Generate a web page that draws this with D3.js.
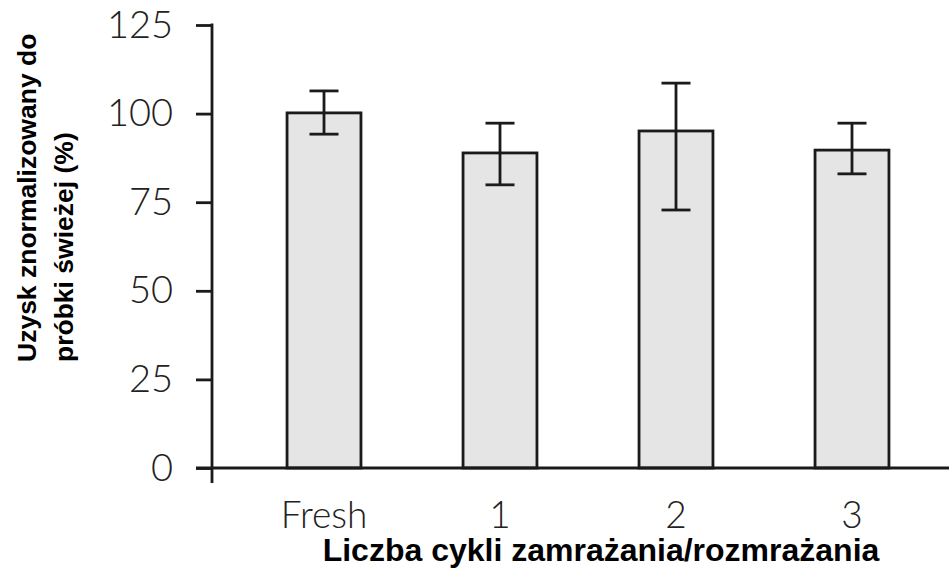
<!DOCTYPE html>
<html>
<head>
<meta charset="utf-8">
<script src="https://cdn.jsdelivr.net/npm/d3@7"></script>
<style>
  html, body { margin: 0; padding: 0; background: #ffffff; }
  svg { display: block; }
</style>
</head>
<body>
<svg id="chart" width="949" height="568"></svg>
<script>
const categories = ["Fresh", "1", "2", "3"];
const values = [100.2, 88.9, 95.1, 89.7];
const errLow = [94.2, 79.9, 72.8, 83.0];
const errHigh = [106.4, 97.3, 108.6, 97.3];
const yTicks = [0, 25, 50, 75, 100, 125];
const xTitle = "Liczba cykli zamrażania/rozmrażania";
const yTitleLines = ["Uzysk znormalizowany do", "próbki świeżej (%)"];

const svg = d3.select("#chart");
const ink = "#1a1a1a";

const x = d3.scaleBand().domain(categories).range([212, 964])
  .paddingInner(0.58).paddingOuter(0.4264);
const y = d3.scaleLinear().domain([0, 125]).range([468, 25]);

// bars
svg.append("g").selectAll("rect").data(categories).join("rect")
  .attr("x", d => x(d))
  .attr("y", (d, i) => y(values[i]))
  .attr("width", x.bandwidth())
  .attr("height", (d, i) => y(0) - y(values[i]))
  .attr("fill", "#e5e5e5")
  .attr("stroke", ink)
  .attr("stroke-width", 2.8);

// error bars
const eb = svg.append("g").attr("stroke", ink).attr("stroke-width", 2.8);
categories.forEach((c, i) => {
  const cx = x(c) + x.bandwidth() / 2;
  eb.append("line").attr("x1", cx).attr("x2", cx).attr("y1", y(errLow[i])).attr("y2", y(errHigh[i]));
  eb.append("line").attr("x1", cx - 14.5).attr("x2", cx + 14.5).attr("y1", y(errLow[i])).attr("y2", y(errLow[i]));
  eb.append("line").attr("x1", cx - 14.5).attr("x2", cx + 14.5).attr("y1", y(errHigh[i])).attr("y2", y(errHigh[i]));
});

// y axis
const yAxis = d3.axisLeft(y).tickValues(yTicks).tickSize(16).tickPadding(23).tickSizeOuter(0);
const gy = svg.append("g").attr("transform", "translate(212,0)").call(yAxis);
gy.select(".domain").remove();
gy.selectAll(".tick line").attr("stroke", ink).attr("stroke-width", 2.8);
gy.selectAll(".tick text")
  .attr("fill", "#222")
  .style("font-family", "Lato, 'Open Sans', sans-serif")
  .style("font-weight", 300)
  .style("font-size", "38px");
svg.append("line").attr("x1", 212).attr("x2", 212).attr("y1", y(125) - 1.4).attr("y2", 483)
  .attr("stroke", ink).attr("stroke-width", 2.8);

// x axis
const xAxis = d3.axisBottom(x).tickSize(0).tickPadding(34).tickSizeOuter(0);
const gx = svg.append("g").attr("transform", "translate(0,468)").call(xAxis);
gx.select(".domain").remove();
gx.selectAll(".tick text")
  .attr("fill", "#222")
  .style("font-family", "Lato, 'Open Sans', sans-serif")
  .style("font-weight", 300)
  .style("font-size", "37px");
svg.append("line").attr("x1", 196).attr("x2", 949).attr("y1", 468).attr("y2", 468)
  .attr("stroke", ink).attr("stroke-width", 2.8);

// titles
svg.append("text")
  .attr("x", 601).attr("y", 561)
  .attr("text-anchor", "middle")
  .style("font-family", "'Liberation Sans', Arial, sans-serif")
  .style("font-weight", "bold")
  .style("font-size", "32px")
  .attr("fill", "#000")
  .text(xTitle);

const yt = svg.append("text")
  .attr("transform", "translate(0,362) rotate(-90)")
  .style("font-family", "'Liberation Sans', Arial, sans-serif")
  .style("font-weight", "bold")
  .style("font-size", "26.5px")
  .attr("fill", "#000");
yTitleLines.forEach((t, i) => {
  yt.append("tspan").attr("x", 0).attr("y", 36 + i * 37).text(t);
});
</script>
</body>
</html>
